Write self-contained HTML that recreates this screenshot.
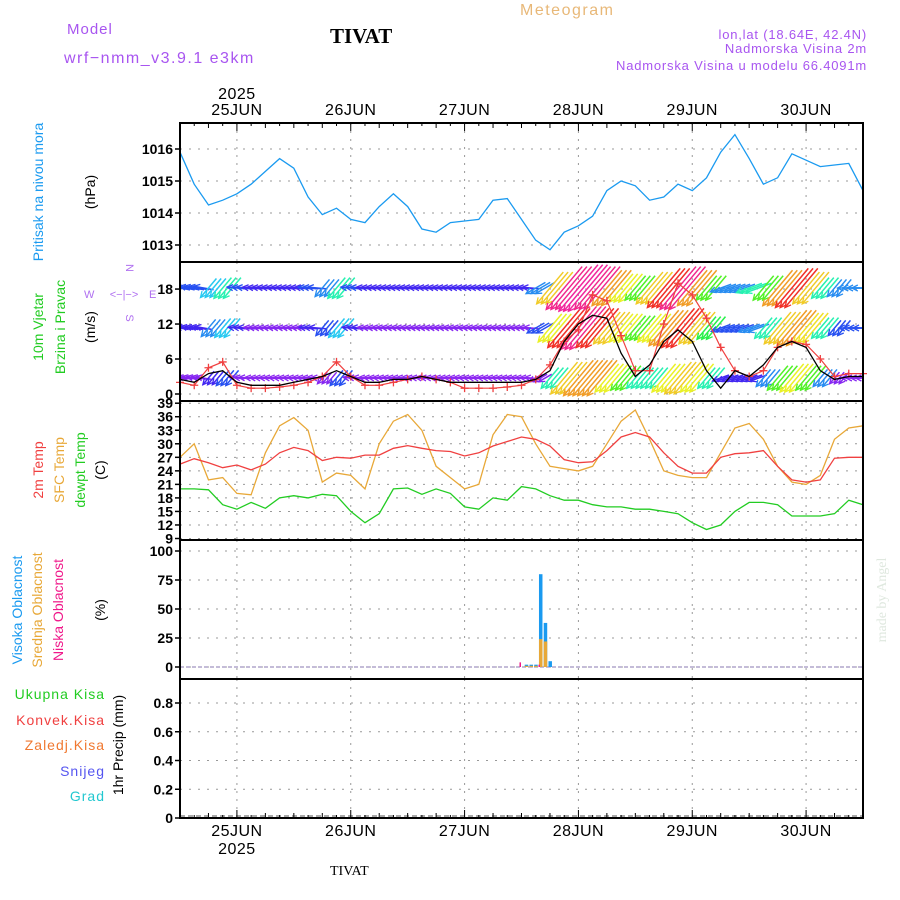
<!DOCTYPE html>
<html><head><meta charset="utf-8"><style>
html,body{margin:0;padding:0;background:#fff;}
svg{display:block;font-family:"Liberation Sans",sans-serif;}
</style></head><body>
<svg id="chart" width="900" height="900" viewBox="0 0 900 900" xmlns="http://www.w3.org/2000/svg">
<rect width="900" height="900" fill="#fff"/>
<g id="header">
<text x="67" y="34" font-size="15" fill="#a855f0" letter-spacing="1">Model</text>
<text x="64" y="63" font-size="16" fill="#a855f0" letter-spacing="1.5">wrf−nmm_v3.9.1  e3km</text>
<text x="330" y="43" font-size="21" font-weight="bold" font-family="Liberation Serif,serif" fill="#000">TIVAT</text>
<text x="520" y="15" font-size="16" fill="#e8b878" letter-spacing="1.5">Meteogram</text>
<text x="867" y="39" font-size="13" fill="#a855f0" text-anchor="end" letter-spacing="0.8">lon,lat (18.64E, 42.4N)</text>
<text x="867" y="53" font-size="13" fill="#a855f0" text-anchor="end" letter-spacing="0.8">Nadmorska Visina 2m</text>
<text x="867" y="70" font-size="13" fill="#a855f0" text-anchor="end" letter-spacing="0.8">Nadmorska Visina u modelu 66.4091m</text>
<text x="330" y="875" font-size="14" font-family="Liberation Serif,serif" fill="#000">TIVAT</text>
<text x="886" y="600" font-size="14" font-family="Liberation Serif,serif" fill="#dfe8df" text-anchor="middle" transform="rotate(-90 886 600)">made by Angel</text>
</g>
<g id="labels" font-size="14">
<text transform="translate(43,192) rotate(-90)" text-anchor="middle" fill="#1a9af0">Pritisak na nivou mora</text>
<text transform="translate(95,192) rotate(-90)" text-anchor="middle" fill="#000">(hPa)</text>
<text transform="translate(43,327) rotate(-90)" text-anchor="middle" fill="#22cc22">10m Vjetar</text>
<text transform="translate(65,327) rotate(-90)" text-anchor="middle" fill="#22cc22">Brzina i Pravac</text>
<text transform="translate(95,327) rotate(-90)" text-anchor="middle" fill="#000">(m/s)</text>
<g fill="#b070f0" font-size="11">
<text x="126" y="268" text-anchor="middle" transform="rotate(90 126 268)">N</text>
<text x="84" y="298">W</text><text x="149" y="298">E</text>
<text x="126" y="318" text-anchor="middle" transform="rotate(90 126 318)">S</text>
<text x="124" y="298" text-anchor="middle">&lt;−|−&gt;</text>
</g>
<text transform="translate(43,470) rotate(-90)" text-anchor="middle" fill="#f04040">2m Temp</text>
<text transform="translate(64,470) rotate(-90)" text-anchor="middle" fill="#e8a838">SFC Temp</text>
<text transform="translate(85,470) rotate(-90)" text-anchor="middle" fill="#22cc22">dewpt Temp</text>
<text transform="translate(105,470) rotate(-90)" text-anchor="middle" fill="#000">(C)</text>
<text transform="translate(22,610) rotate(-90)" text-anchor="middle" fill="#1a9af0">Visoka Oblacnost</text>
<text transform="translate(42,610) rotate(-90)" text-anchor="middle" fill="#e8a838">Srednja Oblacnost</text>
<text transform="translate(63,610) rotate(-90)" text-anchor="middle" fill="#f0188a">Niska Oblacnost</text>
<text transform="translate(105,610) rotate(-90)" text-anchor="middle" fill="#000">(%)</text>
<text x="105" y="699" text-anchor="end" fill="#22cc22" letter-spacing="1">Ukupna  Kisa</text>
<text x="105" y="725" text-anchor="end" fill="#f04040" letter-spacing="1">Konvek.Kisa</text>
<text x="105" y="750" text-anchor="end" fill="#f07830" letter-spacing="1">Zaledj.Kisa</text>
<text x="105" y="776" text-anchor="end" fill="#5555f0" letter-spacing="1">Snijeg</text>
<text x="105" y="801" text-anchor="end" fill="#22c8d0" letter-spacing="1">Grad</text>
<text transform="translate(123,745) rotate(-90)" text-anchor="middle" fill="#000">1hr Precip (mm)</text>
</g>
<g id="plot"></g>
</svg>
<script>
const pressure=[1015.9,1014.9,1014.25,1014.4,1014.6,1014.9,1015.3,1015.7,1015.4,1014.5,1013.95,1014.15,1013.8,1013.7,1014.2,1014.6,1014.2,1013.5,1013.4,1013.7,1013.75,1013.8,1014.4,1014.45,1013.8,1013.15,1012.85,1013.4,1013.6,1013.9,1014.7,1015.0,1014.85,1014.4,1014.5,1014.9,1014.7,1015.1,1015.9,1016.45,1015.7,1014.9,1015.1,1015.85,1015.65,1015.45,1015.5,1015.55,1014.7];
const t2m=[25.5,26.7,25.8,24.7,25.3,24.2,25.5,28,29.2,28.5,26.3,27,26.8,27.5,27.5,29,29.6,29,28.5,28.3,27.3,28,29.5,30.5,31.5,31,29.5,26.5,25.8,26,28.5,31.5,32.5,31.5,28,25,23.5,23.5,27,27.8,28,28.5,25,22,21.5,22,26.8,27,27];
const tsfc=[27,30,22,22.5,19,18.7,28,34,35.8,33,21.5,23.5,23,20,30,35,36.5,33,25,22.5,20,21,32,36.5,36,30,25,24.5,24,25,30,35,37.5,31,24,23,22.5,22.5,28,33.5,34.5,31,25,21.5,21,23,31,33.5,34];
const tdew=[20,20,19.8,16.5,15.5,17,15.7,18,18.5,18,18.8,18.5,15,12.5,14.5,20,20.2,18.8,20,19,16,15.5,18,17.5,20.5,20,18.5,17.5,17.5,16.5,16,16,15.5,15.5,15,14.5,12.5,11,12,15,17,17,16.5,14,14,14,14.5,17.5,16.5];
const gust=[2,1.5,4.5,5.5,1.5,1,1,1.2,1.5,2,3,5.5,3,1.5,1.5,2,2.5,3,2.5,2,1,1,1,1.2,1.5,2.5,5,9,11,17,16,10,4,4,12,19,17,13,8,4,3,4,8,9,8.5,6,3,3.5,3.5];
const wspd=[2.5,2,3.5,4,2,1.5,1.5,1.5,2,2.5,3,4,3,2,2,2.5,2.5,3,2.5,2,2,2,2,2,2,2.5,4,9,12,13.5,13,7,3,5,9,11,9,4,1,4,3,5,8,9,8,4,2.5,3,3];
const spdLow=[3,3,4,5,3,2,2,2,2,2,3,5,3,2,2,2,2,2,2,2,2,2,2,2,2,3,8,14,16,16,12,10,8,8,12,14,12,8,4,4,4,6,10,12,10,6,3,3,3];
const spdMid=[4,4,6,7,4,3,3,3,3,4,5,7,4,3,3,3,3,3,3,3,3,3,3,3,3,5,12,18,20,18,14,12,10,12,16,18,14,9,5,5,6,8,14,16,13,8,5,5,5];
const spdTop=[5,5,7,8,5,4,4,4,4,5,6,8,5,4,4,4,4,4,4,4,4,4,4,4,4,6,14,20,22,20,16,12,10,14,18,20,16,10,6,6,8,10,16,18,14,8,6,6,6];
const windDir=[100,100,40,40,95,95,95,95,95,95,40,40,95,95,95,95,95,95,95,95,95,95,95,95,95,60,40,40,40,40,40,40,40,40,40,40,40,40,70,70,70,40,40,40,40,40,40,90,90];
const cloudHours=[72,73,74,75,76,77,78];
const cloudHigh=[0,2,2,2,80,38,5];
const cloudMid=[0,1,1,1,24,22,0];
const cloudLow=[4,0,0,0,2,0,0];
const dayLabels=["25JUN","26JUN","27JUN","28JUN","29JUN","30JUN"];
const pTicks=[1013,1014,1015,1016];
const wTicks=[0,6,12,18];
const tTicks=[9,12,15,18,21,24,27,30,33,36,39];
const cTicks=[0,25,50,75,100];
const rTicks=[0,0.2,0.4,0.6,0.8];

const NS="http://www.w3.org/2000/svg";
const plot=document.getElementById('plot');
const X0=180,X1=863;
const xS=h=>X0+h*(X1-X0)/144;
const hourOf=i=>i*3;
const yP=p=>245-(p-1013)*32;
const yW=v=>394-v*5.83;
const yT=t=>538.5-(t-9)*4.51;
const yC=c=>667-c*1.16;
const yR=r=>818-r*143.75;
const panels=[[123,262],[262,401],[401,540],[540,679],[679,818]];
function mk(tag,a,parent){const e=document.createElementNS(NS,tag);for(const k in a)e.setAttribute(k,a[k]);(parent||plot).appendChild(e);return e;}
function pathOf(arr,ys){return arr.map((v,i)=>(i?'L':'M')+xS(hourOf(i)).toFixed(1)+' '+ys(v).toFixed(1)).join(' ');}

const grid=mk('g',{});


panels.forEach(([a,b])=>{
  for(let d=0;d<6;d++){
    const l=mk('line',{x1:xS(12+24*d),x2:xS(12+24*d),y1:a,y2:b,stroke:'#999','stroke-dasharray':'2 6'},grid);
    
    
  }
});
function hgrid(ticks,ys,fmt,fs){
  ticks.forEach(t=>{
    const l=mk('line',{x1:X0,x2:X1,y1:ys(t),y2:ys(t),stroke:'#999','stroke-dasharray':'2 7'},grid);
    
    
    const tk=mk('line',{x1:X0-5,x2:X0,y1:ys(t),y2:ys(t),stroke:'#000','stroke-width':1.5},grid);
    
    
    const tx=mk('text',{x:X0-7,y:ys(t)+5,'text-anchor':'end','font-size':fs,fill:'#000','font-weight':'bold'},grid);
    tx.textContent=fmt(t);
    
    
  });
}
hgrid(pTicks,yP,t=>t,14);
hgrid(wTicks,yW,t=>t,14);
hgrid(tTicks,yT,t=>t,14);
hgrid(cTicks,yC,t=>t,14);
hgrid(rTicks,yR,t=>t===0?'0':t.toFixed(1),14);

const pl=mk('path',{d:pathOf(pressure,yP),fill:'none',stroke:'#1a9af0','stroke-width':1.3});



function spdColor(s){
  const stops=[[0,275],[3,268],[5,228],[7,192],[9,130],[12,62],[16,35],[20,330],[24,320]];
  let h=320;
  for(let i=0;i<stops.length-1;i++){if(s>=stops[i][0]&&s<=stops[i+1][0]){const f=(s-stops[i][0])/(stops[i+1][0]-stops[i][0]);let a=stops[i][1],b=stops[i+1][1];if(b>a+180)a+=360;if(a>b+180)b+=360;h=(a+(b-a)*f)%360;break;}}
  return 'hsl('+h+',88%,55%)';
}
const windG=mk('g',{'clip-path':'url(#windclip)'});


const defs=mk('defs',{});
const cp=mk('clipPath',{id:'windclip'},defs);
mk('rect',{x:X0,y:263,width:X1-X0,height:137},cp);
[[spdLow,378],[spdMid,328],[spdTop,288]].forEach(([arr,ry],ri)=>{
  arr.forEach((s,i)=>{
    for(let k=0;k<3;k++){
      const x=xS(hourOf(i)+k);
      if(x>X1)continue;
      const ang=windDir[i]*Math.PI/180;
      const L=8+s*2.4;
      const dx=-Math.sin(ang)*L, dy=Math.cos(ang)*L;
      const x2=x+dx/2, y2=ry+dy/2, x1=x-dx/2, y1=ry-dy/2;
      const c=spdColor(s);
      const ln=mk('line',{x1:x1,y1:y1,x2:x2,y2:y2,stroke:c,'stroke-width':1.5},windG);
      
      
      const ux=dx/L,uy=dy/L;
      const hd=mk('path',{d:`M${x2-ux*6-uy*3} ${y2-uy*6+ux*3} L${x2} ${y2} L${x2-ux*6+uy*3} ${y2-uy*6-ux*3}`,fill:'none',stroke:c,'stroke-width':1.3},windG);
      
      
    }
  });
});
const gl=mk('path',{d:pathOf(gust,yW),fill:'none',stroke:'#f04040','stroke-width':1.2});


gust.forEach((v,i)=>{
  const x=xS(hourOf(i)),y=yW(v);
  const c=mk('path',{d:`M${x-4} ${y}H${x+4}M${x} ${y-4}V${y+4}`,stroke:'#f04040','stroke-width':1.3});
  
  
});
const wl=mk('path',{d:pathOf(wspd,yW),fill:'none',stroke:'#000','stroke-width':1.3});



const l1=mk('path',{d:pathOf(tsfc,yT),fill:'none',stroke:'#e8a838','stroke-width':1.3});


const l2=mk('path',{d:pathOf(t2m,yT),fill:'none',stroke:'#f04040','stroke-width':1.3});


const l3=mk('path',{d:pathOf(tdew,yT),fill:'none',stroke:'#22cc22','stroke-width':1.3});



const base=mk('line',{x1:X0,x2:X1,y1:yC(0),y2:yC(0),stroke:'#8a7ab0','stroke-width':1,'stroke-dasharray':'4 2'});


cloudHours.forEach((h,i)=>{
  const x=xS(h);
  if(cloudHigh[i]>0){const b=mk('rect',{x:x-1.5,y:yC(cloudHigh[i]),width:3.5,height:yC(0)-yC(cloudHigh[i]),fill:'#1a9af0'});
  
  }
  if(cloudMid[i]>0){const b=mk('rect',{x:x-1.5,y:yC(cloudMid[i]),width:3.5,height:yC(0)-yC(cloudMid[i]),fill:'#e8a838'});
  
  }
  if(cloudLow[i]>0){const b=mk('rect',{x:x-2,y:yC(cloudLow[i]),width:1.5,height:yC(0)-yC(cloudLow[i]),fill:'#f0188a'});
  
  }
});
const pb=mk('line',{x1:X0,x2:X1,y1:816,y2:816,stroke:'#555','stroke-width':1,'stroke-dasharray':'5 3'});



panels.forEach(([a,b],i)=>{
  const r=mk('rect',{x:X0,y:a,width:X1-X0,height:b-a,fill:'none',stroke:'#000','stroke-width':2});
  
  
});
for(let h=0;h<=144;h+=3){
  const len=(h-12)%24===0?8:((h%6===0)?5:3);
  const t1=mk('line',{x1:xS(h),x2:xS(h),y1:818,y2:818-len,stroke:'#000'});
  
  
  const t2=mk('line',{x1:xS(h),x2:xS(h),y1:123,y2:123+len,stroke:'#000'});
  
  
}
dayLabels.forEach((d,i)=>{
  const x=xS(12+24*i);
  const a=mk('text',{x:x,y:115,'text-anchor':'middle','font-size':16,fill:'#000','letter-spacing':'0.5'});
  a.textContent=d;
  
  
  const b=mk('text',{x:x,y:836,'text-anchor':'middle','font-size':16,fill:'#000','letter-spacing':'0.5'});
  b.textContent=d;
  
  
});
const y1=mk('text',{x:xS(12),y:99,'text-anchor':'middle','font-size':16,fill:'#000','letter-spacing':'0.5'});
y1.textContent='2025';


const y2=mk('text',{x:xS(12),y:854,'text-anchor':'middle','font-size':16,fill:'#000','letter-spacing':'0.5'});
y2.textContent='2025';


</script>
</body></html>
